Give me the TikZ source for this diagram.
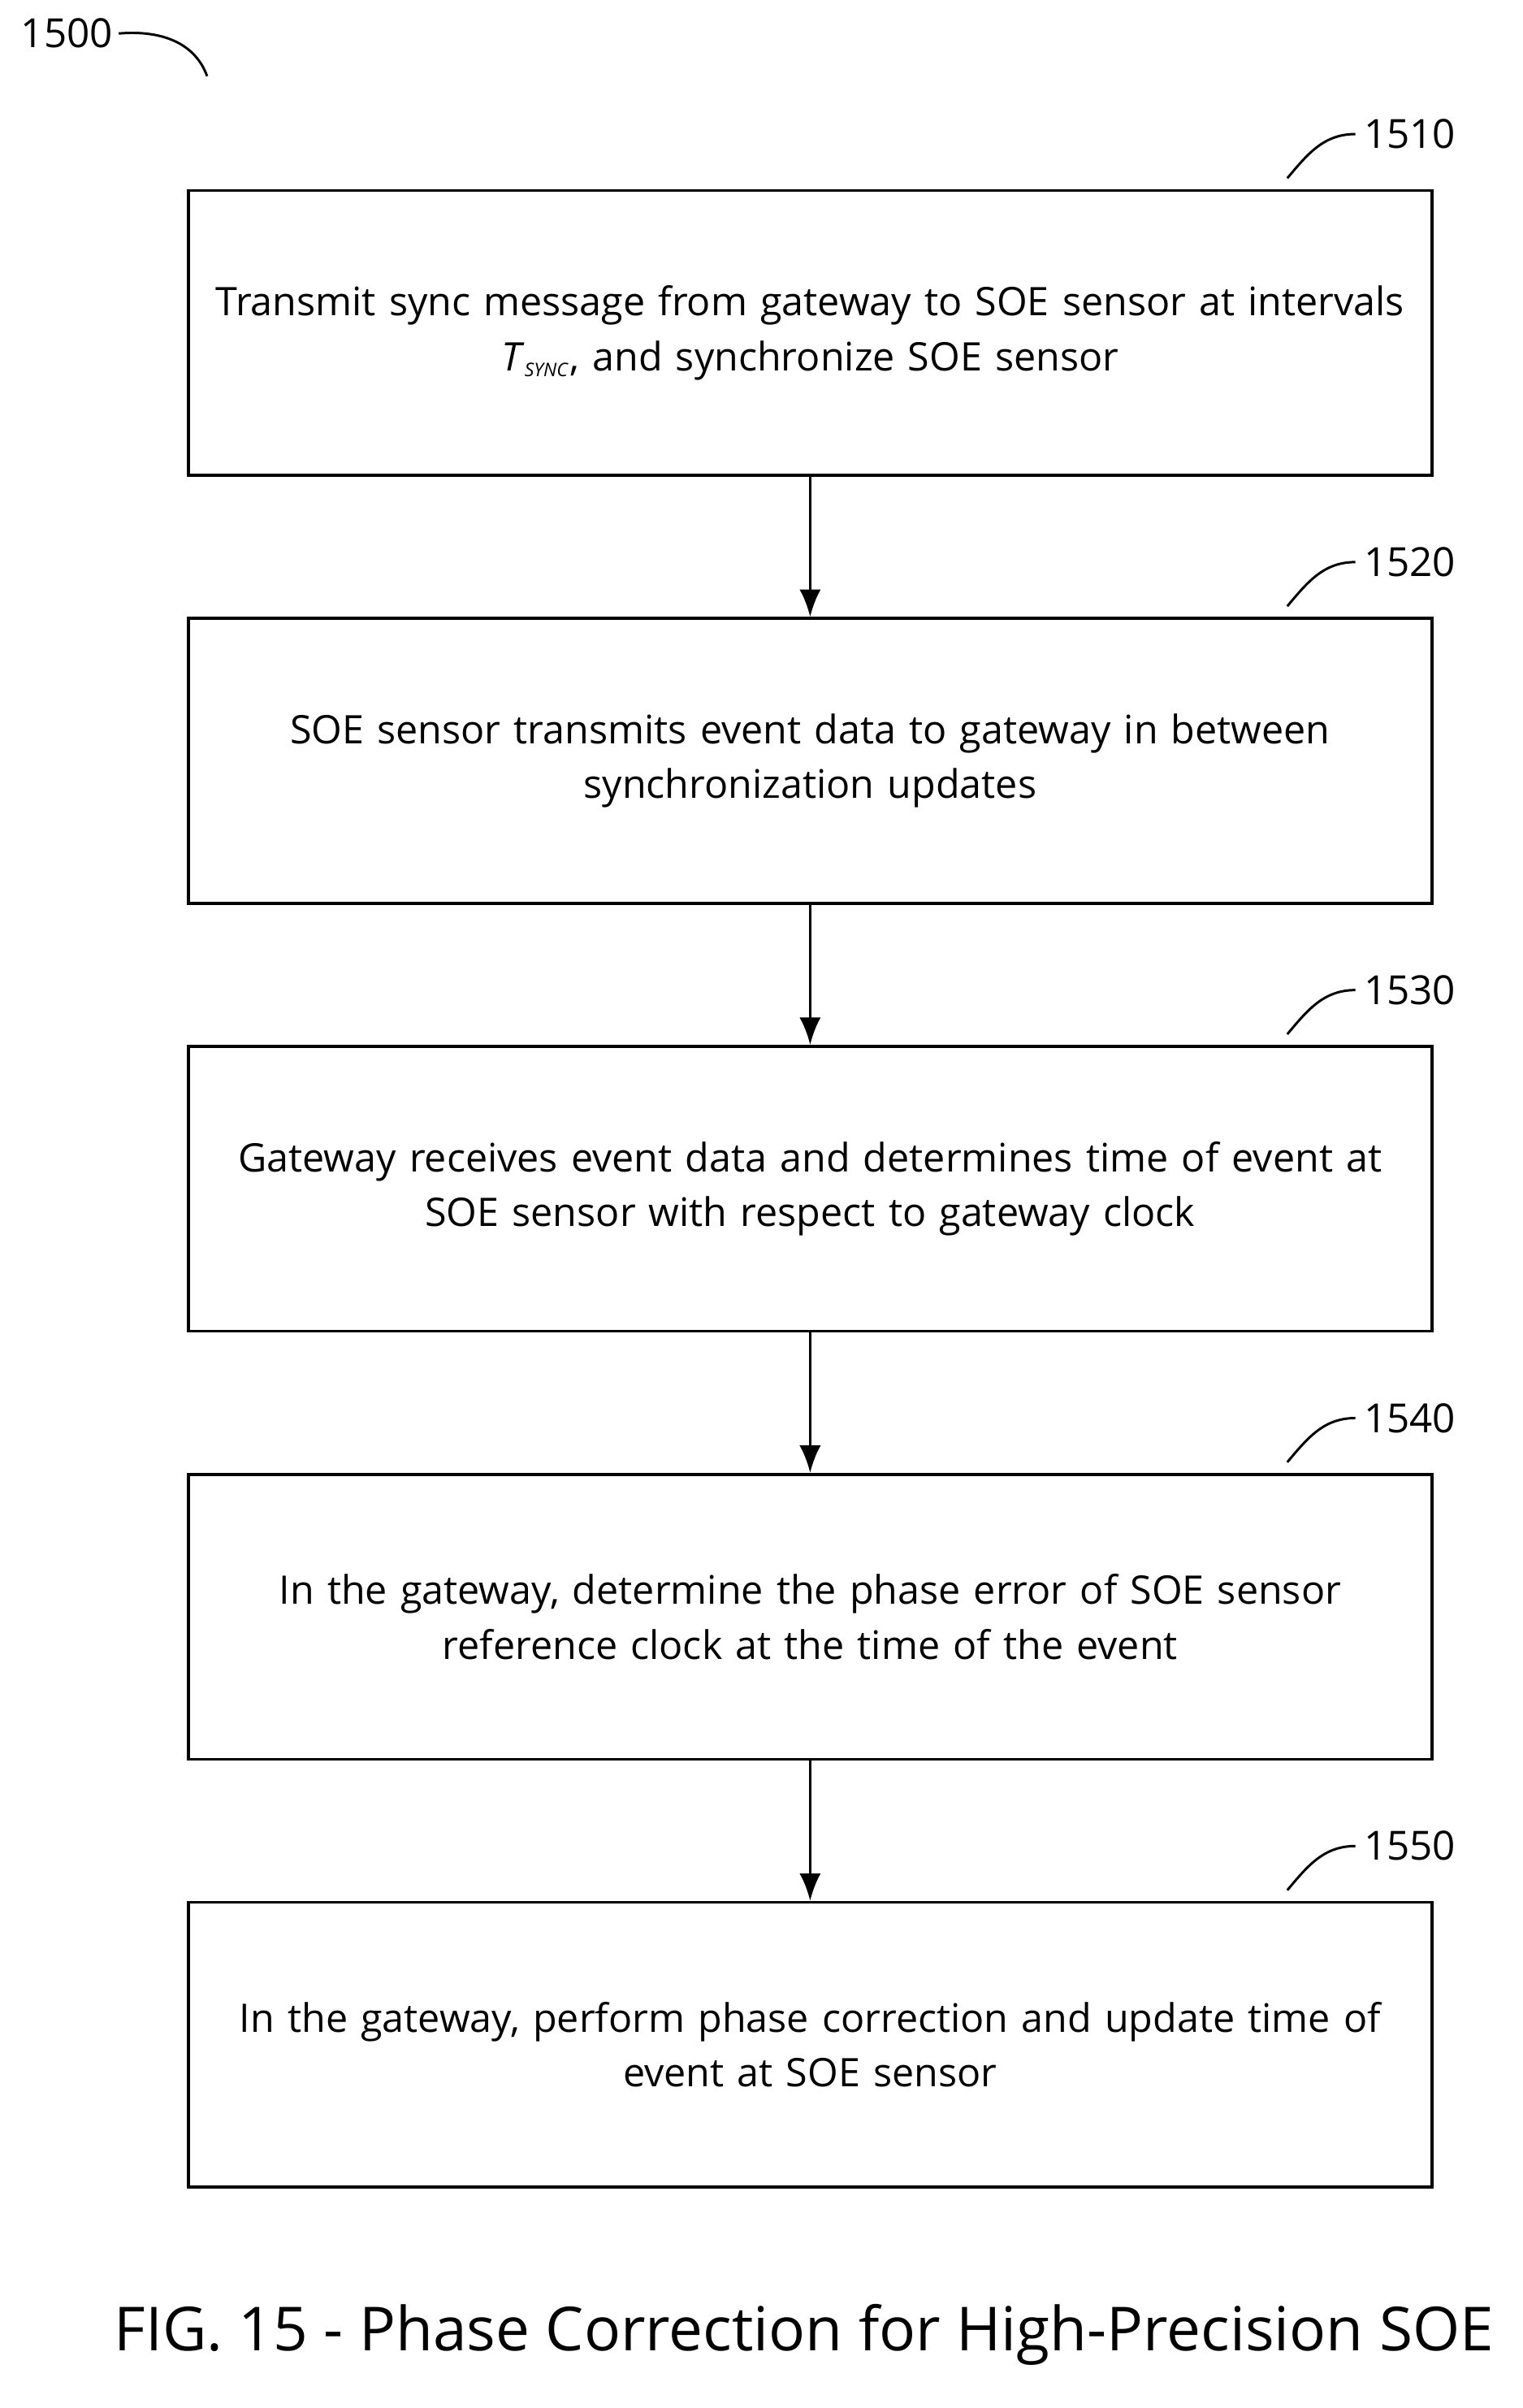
\documentclass[tikz,border=0pt]{standalone}
\usepackage{fontspec}
\setmainfont{Open Sans}
\usetikzlibrary{arrows.meta}
\newcommand{\tsync}{\textit{T}\textsubscript{\textit{\scriptsize SYNC}}}

\begin{document}
\begin{tikzpicture}[x=0.02cm,y=-0.02cm,
    stepbox/.style={draw,line width=1.1pt,minimum width=812*0.02cm,minimum height=187*0.02cm,align=center,font=\fontsize{14.7}{20.5}\selectfont,text width=805*0.02cm},
    refnum/.style={font=\fontsize{15}{16}\selectfont,anchor=west,inner sep=0pt}]
  \useasboundingbox (0,0) rectangle (1000,1581);
  % figure number
  \node[refnum,anchor=center] (fig) at (44,22) {1500};
  \coordinate (figend) at (136,50);
  \draw[line width=0.9pt] ([xshift=2pt]fig.east) to[out=5,in=110] (figend);

  \node[stepbox] (s1) at (532,218.5) {Transmit sync message from gateway to SOE sensor at intervals\\ \tsync, and synchronize SOE sensor};
  \node[stepbox] (s2) at (532,499.5) {SOE sensor transmits event data to gateway in between\\ synchronization updates};
  \node[stepbox] (s3) at (532,780.5) {Gateway receives event data and determines time of event at\\ SOE sensor with respect to gateway clock};
  \node[stepbox] (s4) at (532,1061.5) {In the gateway, determine the phase error of SOE sensor\\ reference clock at the time of the event};
  \node[stepbox] (s5) at (532,1342.5) {In the gateway, perform phase correction and update time of\\ event at SOE sensor};

  % reference numbers
  \foreach \b/\n in {s1/1510,s2/1520,s3/1530,s4/1540,s5/1550}{
    \node[refnum] (r\b) at ([xshift=-46*0.02cm,yshift=36*0.02cm]\b.north east) {\n};
    \draw[line width=0.9pt] ([xshift=-50*0.02cm,yshift=-29*0.02cm]r\b.west) to[out=50,in=180] ([xshift=-3pt]r\b.west);
  }

  \foreach \a/\b in {s1/s2,s2/s3,s3/s4,s4/s5}
    \draw[line width=1.1pt,-{Latex[length=0.36cm,width=0.28cm]}] (\a) -- (\b);

  \node[font=\fontsize{22.7}{26}\selectfont] (cap) at (528,1533) {FIG. 15 - Phase Correction for High-Precision SOE};
\end{tikzpicture}
\end{document}
